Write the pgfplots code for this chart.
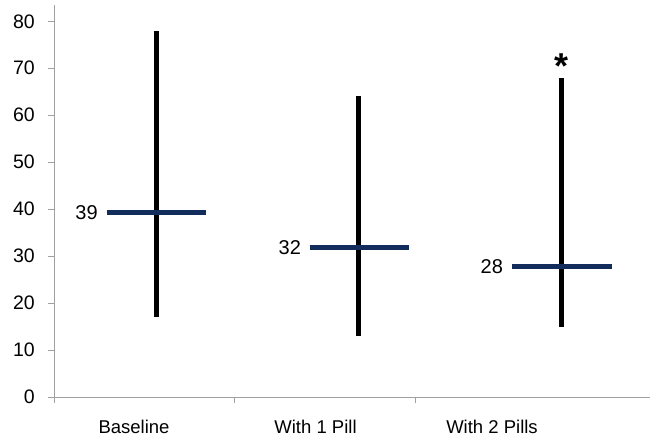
\documentclass[border=0pt]{standalone}
\usepackage{fontspec}
\setmainfont{Liberation Sans}
\usepackage{pgfplots}
\pgfplotsset{compat=1.18}
\definecolor{navy}{HTML}{122D5C}
\definecolor{axgray}{HTML}{A0A0A0}
\begin{document}
\fontsize{18.5bp}{22bp}\selectfont
\begin{tikzpicture}
\begin{axis}[name=ax, scale only axis, width=596bp, height=392bp,
 xmin=0, xmax=3.293, ymin=0, ymax=83.47,
 axis lines=left, axis line style={-, draw=axgray, line width=1bp},
 ytick={0,10,...,80}, tick align=outside, major tick length=6bp,
 tick style={draw=axgray, line width=1bp},
 xtick={0,1,2}, xticklabels={},
 extra x ticks={0.442,1.445,2.420},
 extra x tick labels={Baseline, With 1 Pill, With 2 Pills},
 extra x tick style={major tick length=0pt, tick style={draw=none},
   xticklabel style={anchor=base, inner sep=0pt, yshift=-36bp}},
 yticklabel style={anchor=east, inner sep=0pt, xshift=-13bp,
   font=\fontsize{19.5bp}{22bp}\selectfont},
 /pgf/number format/assume math mode=true,
 xticklabel style={font=\fontsize{18.5bp}{22bp}\selectfont},
 clip=false,
]
% ranges (min to max)
\addplot[black, line width=5bp] coordinates {(0.564,17) (0.564,78)};
\addplot[black, line width=5bp] coordinates {(1.682,13) (1.682,64)};
\addplot[black, line width=5bp] coordinates {(2.804,15) (2.804,68)}
  node[pos=1, anchor=base, inner sep=0pt, yshift=-0.5bp, text=black, font=\fontsize{36bp}{40bp}\selectfont\bfseries] {*};
% medians
\addplot[navy, line width=5bp] coordinates {(0.291,39.3) (0.838,39.3)}
  node[pos=0, anchor=east, inner sep=0pt, xshift=-6.5bp, text=black, font=\fontsize{20bp}{22bp}\selectfont] {39};
\addplot[navy, line width=5bp] coordinates {(1.414,31.9) (1.961,31.9)}
  node[pos=0, anchor=east, inner sep=0pt, xshift=-6.5bp, text=black, font=\fontsize{20bp}{22bp}\selectfont] {32};
\addplot[navy, line width=5bp] coordinates {(2.530,27.8) (3.081,27.8)}
  node[pos=0, anchor=east, inner sep=0pt, xshift=-6.5bp, text=black, font=\fontsize{20bp}{22bp}\selectfont] {28};
\end{axis}
\pgfresetboundingbox
\path ([xshift=-54bp,yshift=-42bp]ax.south west) rectangle ([yshift=5bp]ax.north east);
\end{tikzpicture}
\end{document}
